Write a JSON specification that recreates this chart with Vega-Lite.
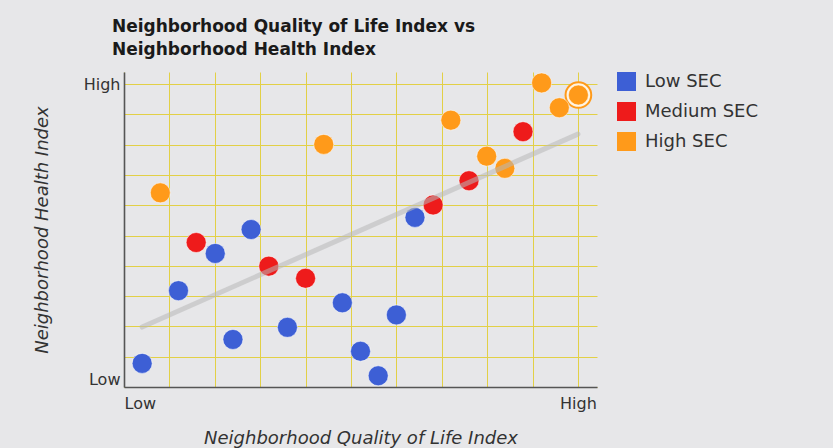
{
  "$schema": "https://vega.github.io/schema/vega-lite/v6.json",
  "autosize": {"type": "none"},
  "padding": {"left": 124, "top": 72, "right": 236, "bottom": 61},
  "width": 473,
  "height": 315,
  "background": "#e7e7e9",
  "title": {
    "text": ["Neighborhood Quality of Life Index vs", "Neighborhood Health Index"],
    "anchor": "start",
    "frame": "group",
    "dx": -12,
    "offset": 12,
    "font": "DejaVu Sans",
    "fontSize": 17,
    "fontWeight": "bold",
    "color": "#1a1a1a",
    "lineHeight": 23
  },
  "config": {
    "view": {"stroke": null},
    "axis": {
      "ticks": false,
      "labelOverlap": false,
      "labelFont": "DejaVu Sans",
      "labelFontSize": 16,
      "labelColor": "#333333",
      "domainColor": "#555555",
      "domainWidth": 1.6,
      "gridColor": "#e2d046",
      "gridWidth": 1,
      "gridOpacity": 1,
      "titleFont": "DejaVu Sans",
      "titleFontSize": 18,
      "titleFontStyle": "italic",
      "titleFontWeight": "normal",
      "titleColor": "#333333"
    }
  },
  "datasets": {
    "trend": [
      {"q": 0.4, "h": 1.98},
      {"q": 10.0, "h": 8.35}
    ]
  },
  "data": {
    "values": [
      {"q": 0.40, "h": 0.78, "sec": "Low SEC", "highlight": false},
      {"q": 1.20, "h": 3.18, "sec": "Low SEC", "highlight": false},
      {"q": 2.01, "h": 4.41, "sec": "Low SEC", "highlight": false},
      {"q": 2.40, "h": 1.57, "sec": "Low SEC", "highlight": false},
      {"q": 2.80, "h": 5.20, "sec": "Low SEC", "highlight": false},
      {"q": 3.60, "h": 1.97, "sec": "Low SEC", "highlight": false},
      {"q": 4.81, "h": 2.78, "sec": "Low SEC", "highlight": false},
      {"q": 5.21, "h": 1.18, "sec": "Low SEC", "highlight": false},
      {"q": 5.60, "h": 0.37, "sec": "Low SEC", "highlight": false},
      {"q": 6.00, "h": 2.38, "sec": "Low SEC", "highlight": false},
      {"q": 6.41, "h": 5.60, "sec": "Low SEC", "highlight": false},
      {"q": 1.59, "h": 4.77, "sec": "Medium SEC", "highlight": false},
      {"q": 3.19, "h": 3.99, "sec": "Medium SEC", "highlight": false},
      {"q": 4.00, "h": 3.59, "sec": "Medium SEC", "highlight": false},
      {"q": 6.81, "h": 6.01, "sec": "Medium SEC", "highlight": false},
      {"q": 7.60, "h": 6.81, "sec": "Medium SEC", "highlight": false},
      {"q": 8.79, "h": 8.43, "sec": "Medium SEC", "highlight": false},
      {"q": 0.80, "h": 6.41, "sec": "High SEC", "highlight": false},
      {"q": 4.40, "h": 8.01, "sec": "High SEC", "highlight": false},
      {"q": 7.20, "h": 8.81, "sec": "High SEC", "highlight": false},
      {"q": 7.99, "h": 7.62, "sec": "High SEC", "highlight": false},
      {"q": 8.39, "h": 7.22, "sec": "High SEC", "highlight": false},
      {"q": 9.20, "h": 10.04, "sec": "High SEC", "highlight": false},
      {"q": 9.59, "h": 9.22, "sec": "High SEC", "highlight": false},
      {"q": 10.01, "h": 9.64, "sec": "High SEC", "highlight": true}
    ]
  },
  "encoding": {
    "x": {
      "field": "q",
      "type": "quantitative",
      "scale": {"domain": [0, 10.42], "nice": false, "zero": false},
      "axis": {
        "title": "Neighborhood Quality of Life Index",
        "values": [0, 1, 2, 3, 4, 5, 6, 7, 8, 9, 10],
        "labelExpr": "datum.value == 0 ? 'Low' : datum.value == 10 ? 'High' : ''",
        "labelPadding": 8,
        "titlePadding": 18
      }
    },
    "y": {
      "field": "h",
      "type": "quantitative",
      "scale": {"domain": [0, 10.4], "nice": false, "zero": false},
      "axis": {
        "title": "Neighborhood Health Index",
        "values": [0, 1, 2, 3, 4, 5, 6, 7, 8, 9, 10],
        "labelExpr": "datum.value == 0 ? 'Low' : datum.value == 10 ? 'High' : ''",
        "labelFlush": true,
        "labelPadding": 4,
        "titlePadding": 32
      }
    }
  },
  "layer": [
    {
      "transform": [{"filter": "datum.highlight"}],
      "mark": {
        "type": "point",
        "shape": "circle",
        "size": 660,
        "filled": true,
        "fill": "#fff4e2",
        "stroke": "#ff9a1a",
        "strokeWidth": 2,
        "opacity": 1
      }
    },
    {
      "mark": {
        "type": "circle",
        "size": 400,
        "opacity": 1,
        "stroke": "#ffffff",
        "strokeWidth": 1,
        "strokeOpacity": 0.5
      },
      "encoding": {
        "color": {
          "field": "sec",
          "type": "nominal",
          "scale": {
            "domain": ["Low SEC", "Medium SEC", "High SEC"],
            "range": ["#3d5fd5", "#ee1b1b", "#ff9a1a"]
          },
          "legend": {
            "title": null,
            "orient": "right",
            "offset": 20,
            "symbolType": "square",
            "symbolSize": 361,
            "symbolStrokeWidth": 0,
            "symbolOpacity": 1,
            "labelFont": "DejaVu Sans",
            "labelFontSize": 18,
            "labelColor": "#333333",
            "labelOffset": 9,
            "rowPadding": 11
          }
        }
      }
    },
    {
      "data": {"name": "trend"},
      "mark": {
        "type": "line",
        "color": "#b8b8b8",
        "strokeWidth": 5,
        "opacity": 0.55,
        "strokeCap": "round"
      },
      "encoding": {}
    }
  ]
}
